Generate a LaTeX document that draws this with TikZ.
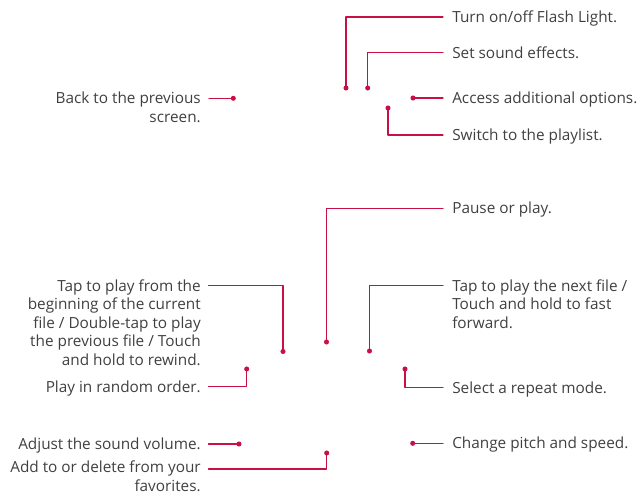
\documentclass[tikz,border=0pt]{standalone}
\usepackage{fontspec}
\setmainfont{Open Sans}
\begin{document}
\begin{tikzpicture}[x=0.75pt, y=-0.75pt, line cap=round, line join=round]
  \definecolor{lgred}{RGB}{200,16,70}
  \definecolor{lgtext}{RGB}{64,64,64}
  \tikzset{
    lbl/.style={text=lgtext, font=\fontsize{11.5}{13.9}\selectfont, inner sep=0pt},
    rlbl/.style={lbl, anchor=base west, align=left},
    llbl/.style={lbl, anchor=base east, align=right},
    lead/.style={lgred, line width=0.8pt},
    pin/.style={fill=lgred}
  }
  \useasboundingbox (0,0) rectangle (638,493);
  % labels (base anchor sits on the last line)
  \node[rlbl] (flash) at (452,22.5) {Turn on/off Flash Light.};
  \node[rlbl] (sound) at (452,58.2) {Set sound effects.};
  \node[rlbl] (more) at (452,103.5) {Access additional options.};
  \node[rlbl] (list) at (452,140.5) {Switch to the playlist.};
  \node[llbl] (back) at (201,122.3) {Back to the previous\\screen.};
  \node[rlbl] (pause) at (452,213.8) {Pause or play.};
  \node[rlbl] (next) at (452,328.3) {Tap to play the next file /\\Touch and hold to fast\\forward.};
  \node[llbl] (prev) at (201,365.3) {Tap to play from the\\beginning of the current\\file / Double-tap to play\\the previous file / Touch\\and hold to rewind.};
  \node[llbl] (shuffle) at (201,392.2) {Play in random order.};
  \node[rlbl] (repeat) at (452,393) {Select a repeat mode.};
  \node[llbl] (volume) at (201,449) {Adjust the sound volume.};
  \node[rlbl] (pitch) at (452,448.8) {Change pitch and speed.};
  \node[llbl] (fav) at (201,491) {Add to or delete from your\\favorites.};
  % pins
  \coordinate (flashpin) at (346,88);
  \coordinate (soundpin) at (367.7,88);
  \coordinate (morepin) at (413,98);
  \coordinate (listpin) at (388,108);
  \coordinate (backpin) at (233.3,98.3);
  \coordinate (pausepin) at (326.5,342);
  \coordinate (nextpin) at (369.5,351);
  \coordinate (prevpin) at (283,351.5);
  \coordinate (shufflepin) at (246.7,369);
  \coordinate (repeatpin) at (405,369);
  \coordinate (volumepin) at (239,444);
  \coordinate (favpin) at (326.7,453);
  \coordinate (pitchpin) at (412.7,443.3);
  % leaders
  \draw[lead] (flashpin) |- ([shift={(-9,-5.5)}]flash.base west);
  \draw[lead] (soundpin) |- ([shift={(-9,-5.5)}]sound.base west);
  \draw[lead] (morepin) -- ([shift={(-9,-5.5)}]more.base west);
  \draw[lead] (listpin) |- ([shift={(-9,-5.5)}]list.base west);
  \draw[lead] (backpin) -- ([shift={(8,-24)}]back.base east);
  \draw[lead] (pausepin) |- ([shift={(-9,-5.5)}]pause.base west);
  \draw[lead] (nextpin) |- ([shift={(-9,-42.6)}]next.base west);
  \draw[lead] (prevpin) |- ([shift={(7.5,-79.6)}]prev.base east);
  \draw[lead] (shufflepin) |- ([shift={(7.5,-5.5)}]shuffle.base east);
  \draw[lead] (repeatpin) |- ([shift={(-9,-5.5)}]repeat.base west);
  \draw[lead] (volumepin) -- ([shift={(7.5,-5)}]volume.base east);
  \draw[lead] (favpin) |- ([shift={(7.5,-22)}]fav.base east);
  \draw[lead] (pitchpin) -- ([shift={(-9,-5.5)}]pitch.base west);
  \foreach \p in {flash,sound,more,list,back,pause,next,prev,shuffle,repeat,volume,fav,pitch}
    \fill[pin] (\p pin) circle (1.9pt);
\end{tikzpicture}
\end{document}
